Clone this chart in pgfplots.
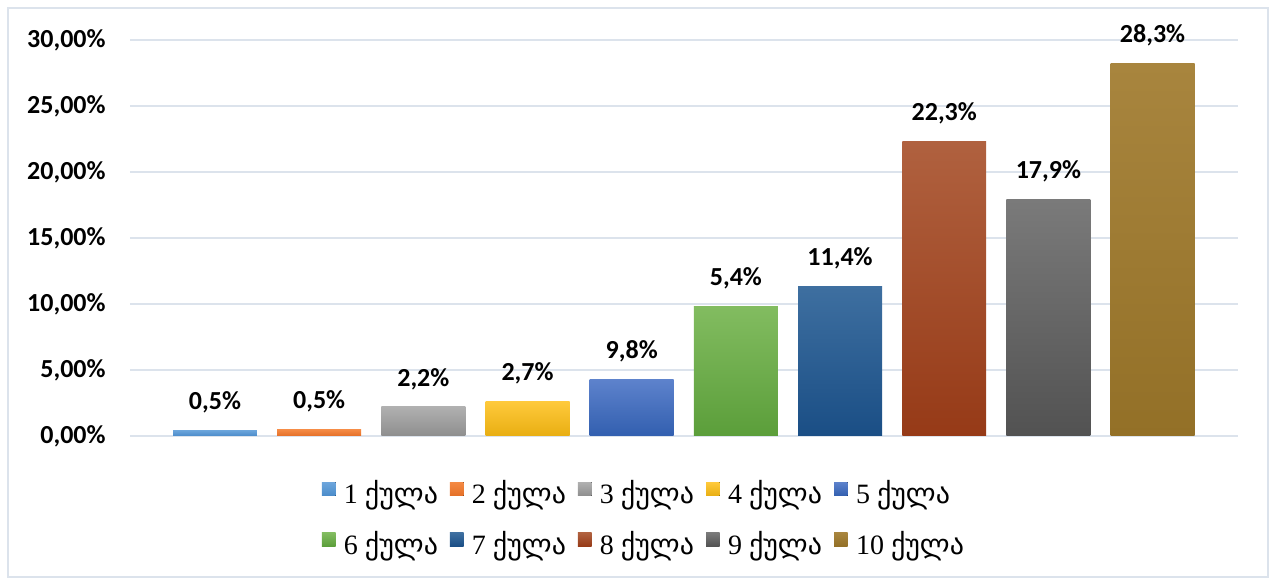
\documentclass[border=0pt]{standalone}
\usepackage{pgfplots}
\pgfplotsset{compat=1.18}
\usepackage{fontspec}
\setmainfont{Liberation Serif}
\newfontfamily\calfont{Carlito}
\newfontfamily\geofont{DejaVu Sans}
\definecolor{gridc}{HTML}{DCE3EC}
\definecolor{framec}{HTML}{DCE3EC}
\definecolor{aT}{HTML}{6DA6DC}\definecolor{aB}{HTML}{4A8BCA}
\definecolor{bT}{HTML}{F48A44}\definecolor{bB}{HTML}{E46F27}
\definecolor{cT}{HTML}{B0B0B0}\definecolor{cB}{HTML}{8E8E8E}
\definecolor{dT}{HTML}{FFCA3C}\definecolor{dB}{HTML}{E8AE12}
\definecolor{eT}{HTML}{5D82CC}\definecolor{eB}{HTML}{325FAF}
\definecolor{fT}{HTML}{82BC60}\definecolor{fB}{HTML}{5B9E3A}
\definecolor{gT}{HTML}{3E6FA0}\definecolor{gB}{HTML}{1A4E85}
\definecolor{hT}{HTML}{B0613F}\definecolor{hB}{HTML}{963A17}
\definecolor{iT}{HTML}{7A7A7A}\definecolor{iB}{HTML}{525252}
\definecolor{jT}{HTML}{A8853E}\definecolor{jB}{HTML}{937027}
\newcommand{\q}[1]{#1 {\geofont ქულა}}
\begin{document}
\begin{tikzpicture}
\useasboundingbox (-65pt,-71pt) rectangle (570pt,218pt);
\draw[framec, line width=1pt] (-61pt,-70.5pt) rectangle (569pt,214pt);
\begin{axis}[
  at={(0,0)}, anchor=south west,
  scale only axis, width=554pt, height=198pt,
  xmin=-0.816, xmax=9.82, ymin=0, ymax=30,
  ytick={0,5,10,15,20,25,30},
  yticklabels={{0,00\%},{5,00\%},{10,00\%},{15,00\%},{20,00\%},{25,00\%},{30,00\%}},
  xtick=\empty,
  ymajorgrids, grid style={gridc, line width=1pt},
  axis line style={draw=none}, major tick length=0pt,
  yticklabel style={font=\calfont\bfseries\fontsize{13}{13}\selectfont, inner sep=0pt, xshift=-12pt},
  ybar, bar width=0.806, bar shift=0pt,
  nodes near coords, point meta=explicit symbolic,
  nodes near coords style={font=\calfont\bfseries\fontsize{13}{13}\selectfont, anchor=south, inner sep=0pt, yshift=8.5pt, black},
  clip=false,
  legend columns=5, legend cell align=left,
  legend style={at={(0.463,-0.218)}, anchor=center, draw=none, fill=none,
    font=\fontsize{14}{14}\selectfont,
    nodes={inner sep=0pt, text height=10pt, text depth=4pt},
    row sep=10.5pt,
    /tikz/every even column/.append style={column sep=6pt}},
  legend image code/.code={\fill[#1] (0pt,1pt) rectangle (6.8pt,7.8pt); \path (11pt,0pt);},
]
\addplot[draw=none, top color=aT, bottom color=aB] coordinates {(0,0.45) [0,5\%]};
\addplot[draw=none, top color=bT, bottom color=bB] coordinates {(1,0.47) [0,5\%]};
\addplot[draw=none, top color=cT, bottom color=cB] coordinates {(2,2.2) [2,2\%]};
\addplot[draw=none, top color=dT, bottom color=dB] coordinates {(3,2.65) [2,7\%]};
\addplot[draw=none, top color=eT, bottom color=eB] coordinates {(4,4.25) [9,8\%]};
\addplot[draw=none, top color=fT, bottom color=fB] coordinates {(5,9.8) [5,4\%]};
\addplot[draw=none, top color=gT, bottom color=gB] coordinates {(6,11.35) [11,4\%]};
\addplot[draw=none, top color=hT, bottom color=hB] coordinates {(7,22.3) [22,3\%]};
\addplot[draw=none, top color=iT, bottom color=iB] coordinates {(8,17.9) [17,9\%]};
\addplot[draw=none, top color=jT, bottom color=jB] coordinates {(9,28.2) [28,3\%]};
\legend{\q{1},\q{2},\q{3},\q{4},\q{5},\q{6},\q{7},\q{8},\q{9},\q{10}}
\end{axis}
\end{tikzpicture}
\end{document}
